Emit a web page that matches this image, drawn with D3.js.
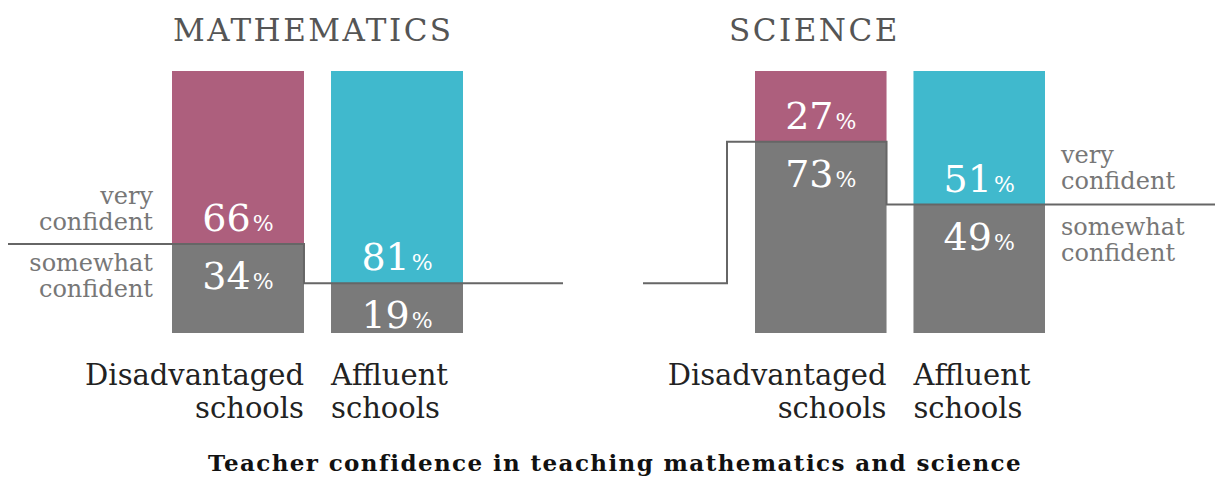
<!DOCTYPE html>
<html>
<head>
<meta charset="utf-8">
<script src="https://cdn.jsdelivr.net/npm/d3@7"></script>
<style>
  body { margin: 0; background: #fff; }
  svg text { font-family: "DejaVu Serif", serif; }
</style>
</head>
<body>
<div id="chart"></div>
<script>
// values
const subjects = ["MATHEMATICS", "SCIENCE"]
const schools = ["Disadvantaged schools", "Affluent schools"]
const mathVery = [66, 81]
const mathSomewhat = [34, 19]
const scienceVery = [27, 51]
const scienceSomewhat = [73, 49]

width = 1215
height = 477
colorVery = ["#ad5f7d", "#40b9cd"]
colorSomewhat = "#7a7a7a"
lineColor = "#666"

y = d3.scaleLinear().domain([0, 100]).range([333, 71])

panels = [
  {title: subjects[0], very: mathVery, somewhat: mathSomewhat,
   x: d3.scaleBand().domain(schools).range([172, 463]).paddingInner(0.17), titleX: 173},
  {title: subjects[1], very: scienceVery, somewhat: scienceSomewhat,
   x: d3.scaleBand().domain(schools).range([755, 1045]).paddingInner(0.17), titleX: 729}
]

const svg = d3.select("#chart").append("svg")
  .attr("width", width)
  .attr("height", height)

panels.forEach(p => {
  const g = svg.append("g")
  const rows = schools.map((s, i) => ({school: s, i: i, very: p.very[i], somewhat: p.somewhat[i]}))

  g.append("text")
    .attr("x", p.titleX)
    .attr("y", 41)
    .style("font-size", "31px")
    .style("letter-spacing", "2.5px")
    .attr("fill", "#555")
    .text(p.title)

  // grey bottom part
  g.selectAll(".somewhat").data(rows).enter().append("rect")
    .attr("x", d => p.x(d.school))
    .attr("width", p.x.bandwidth())
    .attr("y", d => y(d.somewhat))
    .attr("height", d => y(0) - y(d.somewhat))
    .attr("fill", colorSomewhat)

  // coloured top part
  g.selectAll(".very").data(rows).enter().append("rect")
    .attr("x", d => p.x(d.school))
    .attr("width", p.x.bandwidth())
    .attr("y", d => y(d.somewhat + d.very))
    .attr("height", d => y(d.somewhat) - y(d.somewhat + d.very))
    .attr("fill", d => colorVery[d.i])

  const pct = (sel, val, yy) => {
    const t = sel.append("text")
      .attr("x", d => p.x(d.school) + p.x.bandwidth() / 2)
      .attr("y", yy)
      .attr("text-anchor", "middle")
      .attr("fill", "#fff")
    t.append("tspan").style("font-size", "38px").text(val)
    t.append("tspan").style("font-size", "22px").attr("dx", 2).text("%")
  }
  const lab = g.selectAll(".lab").data(rows).enter().append("g")
  pct(lab, d => d.very, d => y(d.somewhat) - 13)
  pct(lab, d => d.somewhat, d => y(d.somewhat) + 45)

  // school names
  const nx = d => d.i == 0 ? p.x(d.school) + p.x.bandwidth() : p.x(d.school)
  const name = g.selectAll(".name").data(rows).enter().append("text")
    .attr("text-anchor", d => d.i == 0 ? "end" : "start")
    .attr("fill", "#222")
    .style("font-size", "29px")
  name.append("tspan").attr("x", nx).attr("y", 385).text(d => d.school.split(" ")[0])
  name.append("tspan").attr("x", nx).attr("y", 418).text(d => d.school.split(" ")[1])
})

// step line that marks very / somewhat boundary
const m = panels[0], s = panels[1]
const mEdge = m.x(schools[0]) + m.x.bandwidth()
const sEdge = s.x(schools[0]) + s.x.bandwidth()
const stepLine = d3.line()
svg.append("path")
  .attr("d", stepLine([[8, y(mathSomewhat[0])], [mEdge, y(mathSomewhat[0])],
    [mEdge, y(mathSomewhat[1])], [563, y(mathSomewhat[1])]]))
  .attr("fill", "none").attr("stroke", lineColor).attr("stroke-width", 2)
svg.append("path")
  .attr("d", stepLine([[643, y(mathSomewhat[1])], [727, y(mathSomewhat[1])],
    [727, y(scienceSomewhat[0])], [sEdge, y(scienceSomewhat[0])],
    [sEdge, y(scienceSomewhat[1])], [width, y(scienceSomewhat[1])]]))
  .attr("fill", "none").attr("stroke", lineColor).attr("stroke-width", 2)

// side labels
const side = (x, anchor, lines, ys) => {
  lines.forEach((l, i) => svg.append("text")
    .attr("x", x).attr("y", ys[i])
    .attr("text-anchor", anchor)
    .attr("fill", "#777")
    .style("font-size", "24px")
    .text(l))
}
side(153, "end", ["very", "confident"], [204, 230])
side(153, "end", ["somewhat", "confident"], [271, 297])
side(1061, "start", ["very", "confident"], [163, 189])
side(1061, "start", ["somewhat", "confident"], [235, 261])

svg.append("text")
  .attr("x", 615)
  .attr("y", 471)
  .attr("text-anchor", "middle")
  .attr("fill", "#111")
  .style("font-size", "23px")
  .style("font-weight", "bold")
  .style("letter-spacing", "1.4px")
  .text("Teacher confidence in teaching mathematics and science")
</script>
</body>
</html>
